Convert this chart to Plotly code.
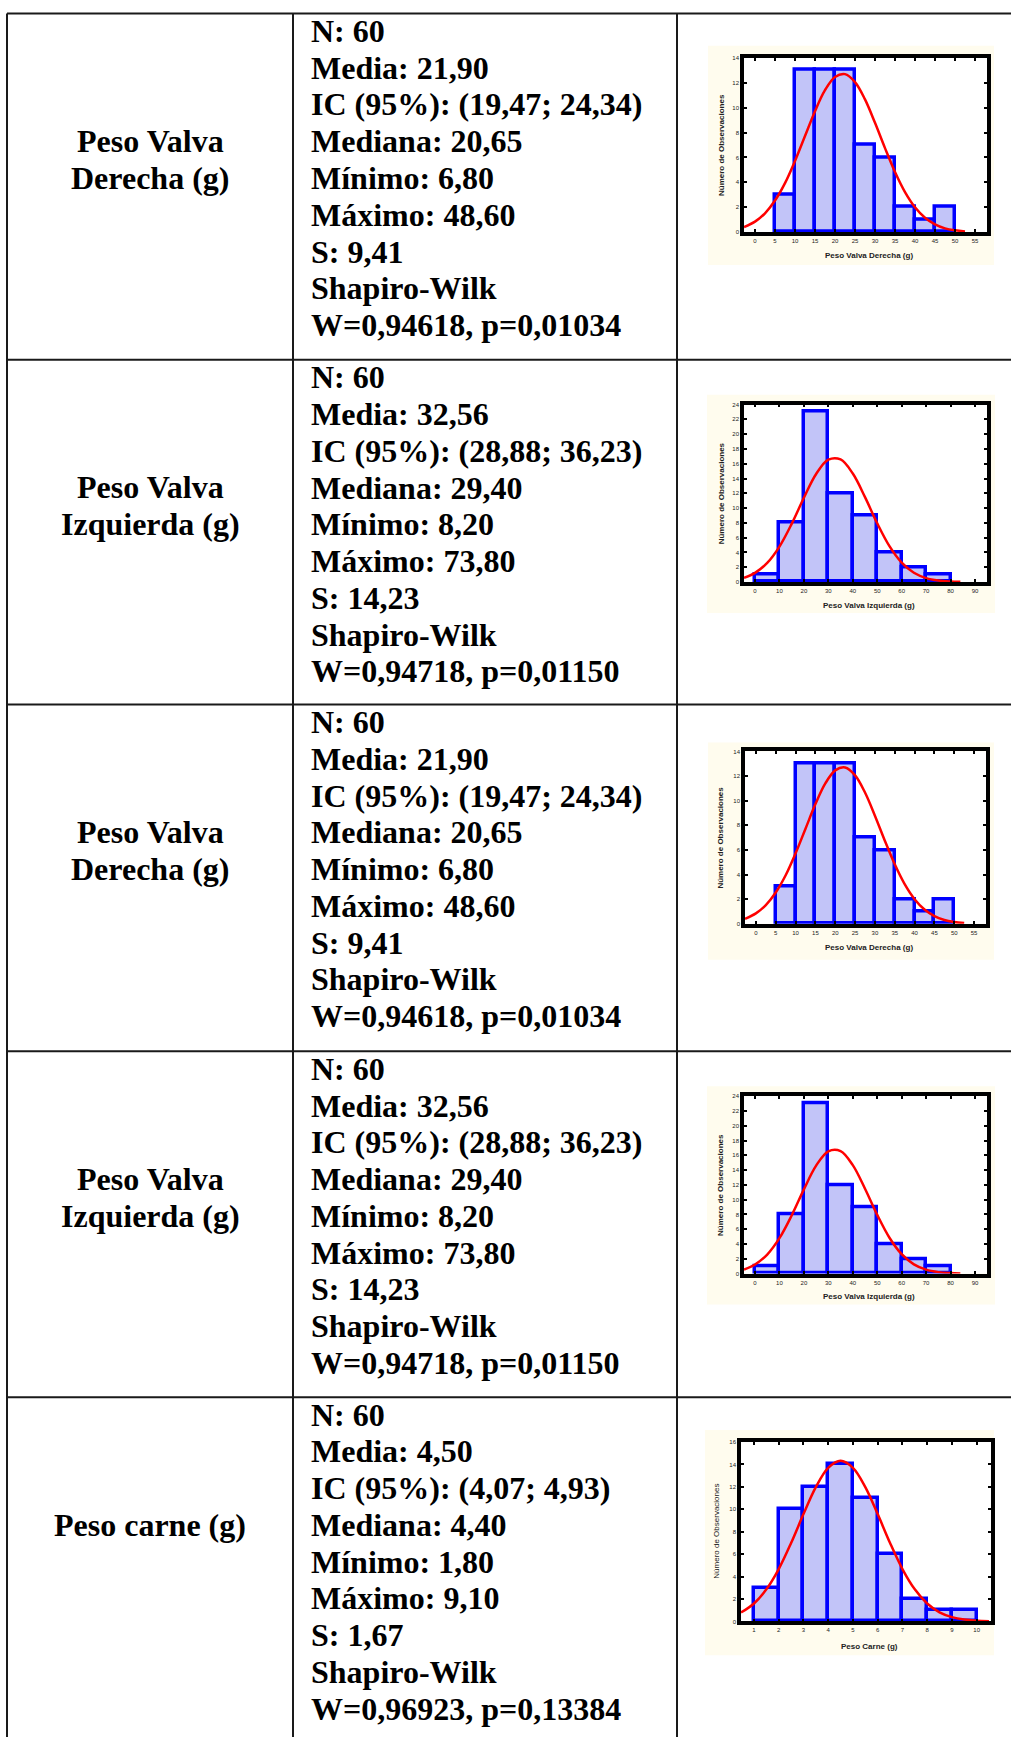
import plotly.graph_objects as go

W, H = 1011, 1737

# ---------------- data ----------------
row_labels = [["Peso Valva", "Derecha (g)"], ["Peso Valva", "Izquierda (g)"],
              ["Peso Valva", "Derecha (g)"], ["Peso Valva", "Izquierda (g)"],
              ["Peso carne (g)"]]

stats_derecha = ["N: 60", "Media: 21,90", "IC (95%): (19,47; 24,34)", "Mediana: 20,65",
                 "Mínimo: 6,80", "Máximo: 48,60", "S: 9,41", "Shapiro-Wilk",
                 "W=0,94618, p=0,01034"]
stats_izquierda = ["N: 60", "Media: 32,56", "IC (95%): (28,88; 36,23)", "Mediana: 29,40",
                   "Mínimo: 8,20", "Máximo: 73,80", "S: 14,23", "Shapiro-Wilk",
                   "W=0,94718, p=0,01150"]
stats_carne = ["N: 60", "Media: 4,50", "IC (95%): (4,07; 4,93)", "Mediana: 4,40",
               "Mínimo: 1,80", "Máximo: 9,10", "S: 1,67", "Shapiro-Wilk",
               "W=0,96923, p=0,13384"]

der_bin_starts = [5, 10, 15, 20, 25, 30, 35, 40, 45]
der_counts = [3, 13, 13, 13, 7, 6, 2, 1, 2]
der_bin_width = 5
der_curve_x = [-2.75, 0, 2.5, 5, 7.5, 10, 12.5, 15, 17.5, 20, 22.5, 25, 27.5, 30, 32.5,
               35, 37.5, 40, 42.5, 45, 47.5, 50, 52.5]
der_curve_y = [0.41, 0.85, 1.52, 2.54, 3.94, 5.72, 7.72, 9.72, 11.40, 12.46, 12.69, 12.05,
               10.66, 8.78, 6.75, 4.83, 3.22, 2.00, 1.16, 0.63, 0.31, 0.15, 0.06]
der_xticks = [0, 5, 10, 15, 20, 25, 30, 35, 40, 45, 50, 55]
der_yticks = [0, 2, 4, 6, 8, 10, 12, 14]

izq_bin_starts = [0, 10, 20, 30, 40, 50, 60, 70]
izq_counts = [1, 8, 23, 12, 9, 4, 2, 1]
izq_bin_width = 10
izq_curve_x = [-4.5, 0, 5, 10, 15, 20, 25, 30, 35, 40, 45, 50, 55, 60, 65, 70, 75, 80, 84]
izq_curve_y = [0.56, 1.23, 2.58, 4.79, 7.86, 11.39, 14.61, 16.55, 16.58, 14.67, 11.48,
               7.94, 4.85, 2.62, 1.25, 0.53, 0.20, 0.07, 0.02]
izq_xticks = [0, 10, 20, 30, 40, 50, 60, 70, 80, 90]
izq_yticks = [0, 2, 4, 6, 8, 10, 12, 14, 16, 18, 20, 22, 24]

car_bin_starts = [1, 2, 3, 4, 5, 6, 7, 8, 9]
car_counts = [3, 10, 12, 14, 11, 6, 2, 1, 1]
car_bin_width = 1
car_curve_x = [0.475, 1, 1.5, 2, 2.5, 3, 3.5, 4, 4.5, 5, 5.5, 6, 6.5, 7, 7.5, 8, 8.5, 9,
               9.5, 10, 10.5]
car_curve_y = [0.79, 1.60, 2.86, 4.67, 6.99, 9.57, 11.98, 13.70, 14.33, 13.70, 11.98, 9.57,
               6.99, 4.67, 2.86, 1.60, 0.81, 0.38, 0.16, 0.06, 0.02]
car_xticks = [1, 2, 3, 4, 5, 6, 7, 8, 9, 10]
car_yticks = [0, 2, 4, 6, 8, 10, 12, 14, 16]

y_title = "Número de Observaciones"
x_titles = ["Peso Valva Derecha (g)", "Peso Valva Izquierda (g)", "Peso Valva Derecha (g)",
            "Peso Valva Izquierda (g)", "Peso Carne (g)"]

# ---------------- layout geometry (pixels) ----------------
row_tops = [10.5, 358, 704, 1052, 1399]
col_lines = [7, 293, 677]
frames = [(744, 987, 55, 230), (744, 987, 403, 581), (745, 986, 751, 924),
          (744, 987, 1097, 1275), (741, 991, 1444, 1624)]
creams = [(708, 994, 43, 263), (707, 995, 393, 612), (708, 994, 742, 960),
          (707, 995, 1087, 1306), (705, 994, 1432, 1658)]
xranges = [(-2.75, 58), (-4.5, 94.9), (-2.75, 58), (-4.5, 94.9), (0.475, 10.58)]
xtitle_y = [253, 605, 948, 1298, 1649]
ytitle_x = [721, 721, 721, 721, 717]


def px(x):
    return x / W


def py(y):
    return 1 - y / H


hists = [
    (der_bin_starts, der_counts, der_bin_width, der_curve_x, der_curve_y, der_xticks, der_yticks),
    (izq_bin_starts, izq_counts, izq_bin_width, izq_curve_x, izq_curve_y, izq_xticks, izq_yticks),
    (der_bin_starts, der_counts, der_bin_width, der_curve_x, der_curve_y, der_xticks, der_yticks),
    (izq_bin_starts, izq_counts, izq_bin_width, izq_curve_x, izq_curve_y, izq_xticks, izq_yticks),
    (car_bin_starts, car_counts, car_bin_width, car_curve_x, car_curve_y, car_xticks, car_yticks),
]
stats = [stats_derecha, stats_izquierda, stats_derecha, stats_izquierda, stats_carne]

fig = go.Figure()
shapes = []
annotations = []
layout_axes = {}

serif = "Liberation Serif, Times New Roman, serif"
sans = "Liberation Sans, Arial, sans-serif"

for i, (starts, counts, bw, cx, cy, xt, yt) in enumerate(hists):
    n = i + 1
    xa = "x" if n == 1 else f"x{n}"
    ya = "y" if n == 1 else f"y{n}"
    l, r, t, b = frames[i]
    fig.add_trace(go.Bar(x=starts, y=counts, width=bw, offset=0,
                         marker=dict(color="#C2C4F8", line=dict(color="#0000FF", width=3.5)),
                         xaxis=xa, yaxis=ya, showlegend=False))
    fig.add_trace(go.Scatter(x=cx, y=cy, mode="lines", line=dict(color="#FF0000", width=2.5, shape="spline"),
                             xaxis=xa, yaxis=ya, showlegend=False))
    axcommon = dict(showgrid=False, zeroline=False, showline=True, linecolor="black", linewidth=3.5,
                    mirror="ticks", ticks="inside", ticklen=3, tickwidth=1.5, tickcolor="black",
                    tickfont=dict(family=sans, size=6, color="#222"), fixedrange=True)
    layout_axes["xaxis" if n == 1 else f"xaxis{n}"] = dict(
        domain=[px(l), px(r)], range=list(xranges[i]), anchor=ya,
        tickvals=xt, ticktext=[str(v) for v in xt], **axcommon)
    layout_axes["yaxis" if n == 1 else f"yaxis{n}"] = dict(
        domain=[py(b), py(t)], range=[0, yt[-1]], anchor=xa,
        tickvals=yt, ticktext=[str(v) for v in yt], **axcommon)
    # cream background + white plot interior
    cl, cr, ct, cb = creams[i]
    shapes.append(dict(type="rect", xref="paper", yref="paper", x0=px(cl), x1=px(cr), y0=py(cb), y1=py(ct),
                       fillcolor="#FFFCEE", line=dict(width=0), layer="below"))
    shapes.append(dict(type="rect", xref="paper", yref="paper", x0=px(l), x1=px(r), y0=py(b), y1=py(t),
                       fillcolor="white", line=dict(width=0), layer="below"))
    # axis titles
    ybold = i < 4
    annotations.append(dict(xref="paper", yref="paper", x=px(ytitle_x[i]), y=py((t + b) / 2),
                            text=(f"<b>{y_title}</b>" if ybold else y_title), textangle=-90, showarrow=False,
                            xanchor="center", yanchor="middle",
                            font=dict(family=sans, size=8, color="#222")))
    annotations.append(dict(xref="paper", yref="paper", x=px((l + r) / 2 + 3), y=py(xtitle_y[i]),
                            text=f"<b>{x_titles[i]}</b>", showarrow=False, xanchor="center", yanchor="middle",
                            font=dict(family=sans, size=8, color="#222")))

    # table text
    top = row_tops[i]
    for k, line in enumerate(stats[i]):
        annotations.append(dict(xref="paper", yref="paper", x=px(309), y=py(top + 17.5 + 36.9 * k),
                                text=f"<b>{line}</b>", showarrow=False, xanchor="left", yanchor="middle",
                                font=dict(family=serif, size=32, color="black")))
    for k, line in enumerate(row_labels[i]):
        annotations.append(dict(xref="paper", yref="paper", x=px(150), y=py(top + 128 + 36.9 * k),
                                text=f"<b>{line}</b>", showarrow=False, xanchor="center", yanchor="middle",
                                font=dict(family=serif, size=32, color="black")))

# table lines
line_style = dict(color="#1a1a1a", width=2)
for x in col_lines:
    shapes.append(dict(type="line", xref="paper", yref="paper", x0=px(x), x1=px(x),
                       y0=py(row_tops[0]), y1=py(H + 20), line=line_style))
for y in row_tops:
    shapes.append(dict(type="line", xref="paper", yref="paper", x0=px(col_lines[0]), x1=px(W + 5),
                       y0=py(y), y1=py(y), line=line_style))

fig.update_layout(width=W, height=H, margin=dict(l=0, r=0, t=0, b=0),
                  paper_bgcolor="white", plot_bgcolor="rgba(0,0,0,0)",
                  shapes=shapes, annotations=annotations, bargap=0, showlegend=False,
                  **layout_axes)

fig.write_html("out.html", config={"displayModeBar": False})
